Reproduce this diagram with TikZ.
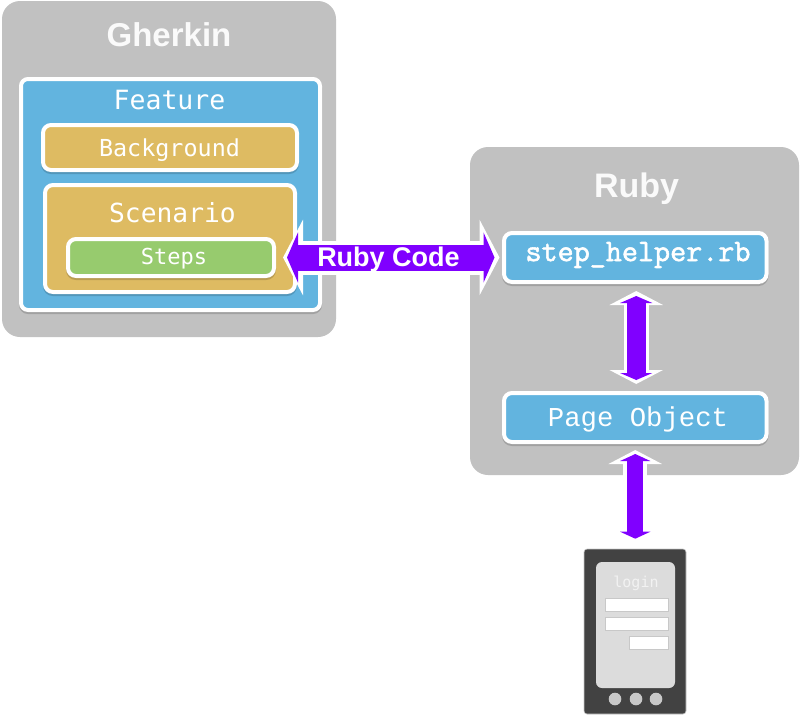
\documentclass[tikz,border=0pt]{standalone}
\usepackage{fontspec}
\setmainfont{Liberation Sans}
\newfontfamily\codefont{DejaVu Sans Mono}
\newfontfamily\lightfont{Liberation Mono}
\newfontfamily\slabfont[FakeBold=1.8]{Latin Modern Mono}
\usetikzlibrary{arrows.meta,shadows}
\definecolor{panelgray}{HTML}{C1C1C1}
\definecolor{bluefill}{HTML}{62B4DF}
\definecolor{goldfill}{HTML}{DEBB62}
\definecolor{greenfill}{HTML}{97CB6E}
\definecolor{arrowpurple}{HTML}{8000FF}
\definecolor{phonedark}{HTML}{424242}
\definecolor{screengray}{HTML}{DCDCDC}
\definecolor{edgegray}{HTML}{C8C8C8}
\tikzset{
  panel/.style={rectangle,fill=panelgray,rounded corners=18pt,inner sep=0pt},
  card/.style={rectangle,draw=white,line width=4pt,rounded corners=8pt,inner sep=0pt,
    general shadow={fill=black,draw=black,line width=4pt,opacity=.16,shadow yshift=-2pt}},
  title/.style={font=\bfseries\fontsize{#1}{#1}\selectfont,text=white!98!black,inner sep=0pt},
  code/.style={font=\codefont\fontsize{#1}{#1}\selectfont,text=white,inner sep=0pt},
  field/.style={rectangle,fill=white,draw=edgegray,line width=.8pt,inner sep=0pt},
  btn/.style={circle,fill=edgegray,minimum size=12.6pt,inner sep=0pt},
}
\begin{document}
\begin{tikzpicture}[x=1pt,y=-1pt]
\useasboundingbox (0,0) rectangle (800,716);
% Gherkin
\node[panel,minimum width=334pt,minimum height=336pt] (gherkin) at (169,169) {};
\node[title=33pt] (gherkinlabel) at (169,35) {Gherkin};
\node[card,fill=bluefill,rounded corners=7pt,minimum width=299pt,minimum height=231pt] (feature) at (170.5,194.5) {};
\node[code=26.5pt] (featurelabel) at (169.5,100.5) {Feature};
\node[card,fill=goldfill,minimum width=254pt,minimum height=45pt] (background) at (170,147.5) {};
\node[code=23.4pt] (backgroundlabel) at (169.5,150) {Background};
\node[card,fill=goldfill,minimum width=250pt,minimum height=107pt] (scenario) at (170,238.5) {};
\node[code=26.3pt] (scenariolabel) at (172.5,213) {Scenario};
\node[card,fill=greenfill,minimum width=206pt,minimum height=37pt] (steps) at (171,257.5) {};
\node[code=22pt] (stepslabel) at (174,258.5) {Steps};
% Ruby
\node[panel,minimum width=329pt,minimum height=328pt] (ruby) at (634.5,311) {};
\node[title=34pt] (rubylabel) at (636.5,188.5) {Ruby};
\node[card,fill=bluefill,minimum width=262.5pt,minimum height=49pt] (helper) at (635.25,257.5) {};
\node[font=\slabfont\fontsize{31.2pt}{31.2pt}\selectfont,text=white,inner sep=0pt] (helperlabel) at (638,255) {step\_helper.rb};
\node[card,fill=bluefill,minimum width=262.5pt,minimum height=49pt] (pageobject) at (635.25,417.5) {};
\node[font=\lightfont\fontsize{27.3pt}{27.3pt}\selectfont,text=white,inner sep=0pt] (pagelabel) at (638,419) {Page Object};
% Phone
\node[rectangle,fill=phonedark,draw=edgegray,line width=.6pt,rounded corners=3pt,minimum width=102pt,minimum height=165pt,inner sep=0pt] (phone) at (635,631.5) {};
\node[rectangle,fill=screengray,rounded corners=6pt,minimum width=79pt,minimum height=126pt,inner sep=0pt] (screen) at (635.5,625) {};
\node[code=15pt,text=white!95!black] (loginlabel) at (636,583) {login};
\node[field,minimum width=63pt,minimum height=13pt] (fieldone) at (636.5,604.5) {};
\node[field,minimum width=63pt,minimum height=13pt] (fieldtwo) at (636.5,623.5) {};
\node[field,minimum width=39pt,minimum height=13pt] (fieldthree) at (648.5,642.5) {};
\node[btn] (btnone) at (615,699) {};
\node[btn] (btntwo) at (636,699) {};
\node[btn] (btnthree) at (656,699) {};
% Arrows
\draw[draw=white,line width=34pt,shorten <=7pt,shorten >=2.5pt,
  {Triangle[length=20pt,width=75pt]}-{Triangle[length=20pt,width=75pt]}] (steps.east) -- (helper.west);
\draw[draw=arrowpurple,line width=26pt,shorten <=11pt,shorten >=7.5pt,
  {Triangle[length=11pt,width=50pt]}-{Triangle[length=11pt,width=50pt]}] (steps.east) -- (helper.west);
\node[title=27pt,text=white] (codelabel) at (388.5,259.5) {Ruby Code};
\draw[draw=white,line width=24.5pt,shorten <=7pt,shorten >=7pt,
  {Triangle[length=14pt,width=53pt]}-{Triangle[length=14pt,width=53pt]}] ([xshift=1pt]helper.south) -- ([xshift=1pt]pageobject.north);
\draw[draw=arrowpurple,line width=18.5pt,shorten <=12pt,shorten >=11pt,
  {Triangle[length=7pt,width=32pt]}-{Triangle[length=7pt,width=32pt]}] ([xshift=1pt]helper.south) -- ([xshift=1pt]pageobject.north);
\draw[draw=white,line width=24pt,shorten <=6pt,shorten >=6pt,
  {Triangle[length=14pt,width=53pt]}-{Triangle[length=14pt,width=53pt]}] (pageobject.south) -- (pageobject.south |- phone.north);
\draw[draw=arrowpurple,line width=16pt,shorten <=10pt,shorten >=10pt,
  {Triangle[length=7pt,width=30pt]}-{Triangle[length=7pt,width=30pt]}] (pageobject.south) -- (pageobject.south |- phone.north);
\end{tikzpicture}
\end{document}
